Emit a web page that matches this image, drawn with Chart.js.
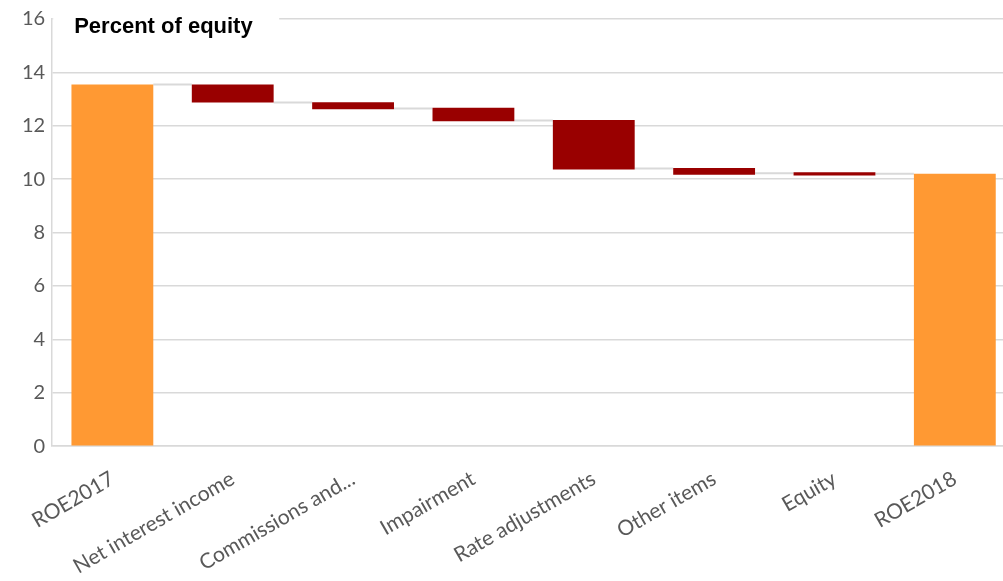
<!DOCTYPE html>
<html>
<head>
<meta charset="utf-8">
<script src="https://cdn.jsdelivr.net/npm/chart.js"></script>
<style>
  body { margin: 0; overflow: hidden; background: #fff; }
  #wrap { position: absolute; left: 0; top: 0; width: 1015px; height: 581px; }
</style>
</head>
<body>
<div id="wrap"><canvas id="roeChart" width="1015" height="581"></canvas></div>
<script>
const categories = ['ROE2017', 'Net interest income', 'Commissions and...', 'Impairment',
    'Rate adjustments', 'Other items', 'Equity', 'ROE2018'];
const barLow = [0, 12.87, 12.62, 12.17, 10.36, 10.17, 10.14, 0];
const barHigh = [13.55, 13.55, 12.88, 12.68, 12.22, 10.42, 10.26, 10.2];
// level of the grey connector between bar i and bar i+1
const connectorLevels = [13.55, 12.87, 12.65, 12.2, 10.4, 10.22, 10.2];
const isTotal = [true, false, false, false, false, false, false, true];
const yTicks = [0, 2, 4, 6, 8, 10, 12, 14, 16];

const connectorPlugin = {
    id: 'connectors',
    beforeDatasetsDraw(chart) {
        const meta = chart.getDatasetMeta(0);
        const y = chart.scales.y;
        const ctx = chart.ctx;
        ctx.save();
        ctx.strokeStyle = '#d9d9d9';
        ctx.lineWidth = 2;
        connectorLevels.forEach((level, i) => {
            const a = meta.data[i];
            const b = meta.data[i + 1];
            const py = y.getPixelForValue(level);
            ctx.beginPath();
            ctx.moveTo(a.x + a.width / 2, py);
            ctx.lineTo(b.x - b.width / 2, py);
            ctx.stroke();
        });
        ctx.restore();
    },
};

const titlePlugin = {
    id: 'boxTitle',
    afterDraw(chart) {
        const ctx = chart.ctx;
        const area = chart.chartArea;
        ctx.save();
        ctx.fillStyle = '#ffffff';
        ctx.fillRect(area.left + 1, area.top - 4, 226, 10);
        ctx.fillStyle = '#000000';
        ctx.font = 'bold 22px "Liberation Sans", Arial, sans-serif';
        ctx.textBaseline = 'middle';
        ctx.fillText('Percent of equity', area.left + 22, area.top + 8);
        ctx.restore();
    },
};

const ctx = document.getElementById('roeChart').getContext('2d');
new Chart(ctx, {
    type: 'bar',
    data: {
        labels: categories,
        datasets: [
            {
                data: categories.map((c, i) => [barLow[i], barHigh[i]]),
                backgroundColor: isTotal.map((t) => (t ? '#ff9933' : '#990000')),
                borderWidth: 0,
                categoryPercentage: 1,
                barPercentage: 0.68,
            },
        ],
    },
    options: {
        responsive: false,
        animation: false,
        layout: { padding: { left: 15, top: 8, right: 0, bottom: -10 } },
        plugins: { legend: { display: false }, tooltip: { enabled: false } },
        scales: {
            x: {
                grid: { display: false },
                border: { color: '#d9d9d9', width: 1.5 },
                ticks: {
                    autoSkip: false,
                    maxRotation: 30,
                    minRotation: 30,
                    color: '#595959',
                    font: { family: 'Lato', size: 21 },
                    padding: 12,
                },
            },
            y: {
                min: 0,
                max: 16,
                afterBuildTicks: (axis) => {
                    axis.ticks = yTicks.map((v) => ({ value: v }));
                },
                grid: { color: '#d9d9d9', lineWidth: 1.5, drawTicks: false },
                border: { color: '#d9d9d9', width: 1.5 },
                ticks: {
                    color: '#595959',
                    font: { family: 'Lato', size: 20 },
                    padding: 7,
                },
            },
        },
    },
    plugins: [connectorPlugin, titlePlugin],
});
</script>
</body>
</html>
